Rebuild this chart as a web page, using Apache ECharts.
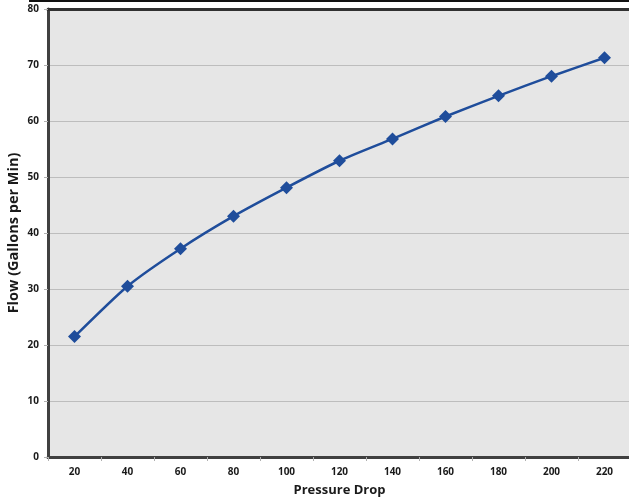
<!DOCTYPE html>
<html>
<head>
<meta charset="utf-8">
<script src="https://cdn.jsdelivr.net/npm/echarts@6/dist/echarts.min.js"></script>
<style>
html,body{margin:0;padding:0;background:#fff;}
#c{width:629px;height:504px;}
</style>
</head>
<body>
<div id="c"></div>
<script>
var categories = ['20','40','60','80','100','120','140','160','180','200','220'];
var flowValues = [21.5, 30.5, 37.2, 43.0, 48.1, 52.9, 56.8, 60.8, 64.5, 68.0, 71.3];
var yTicks = [0, 10, 20, 30, 40, 50, 60, 70, 80];

var fontFam = '"Open Sans", "Liberation Sans", sans-serif';
var chart = echarts.init(document.getElementById('c'), null, {renderer:'canvas'});
chart.setOption({
  animation: false,
  backgroundColor: '#ffffff',
  graphic: [{
    type: 'line',
    shape: {x1: 29, y1: 1, x2: 629, y2: 1},
    style: {stroke: '#111', lineWidth: 2}
  }],
  grid: {left: 48, top: 9, width: 583, height: 448, show: true, backgroundColor: '#e6e6e6', borderWidth: 0,
    outerBoundsMode: 'none', containLabel: false},
  xAxis: [{
    type: 'category',
    data: categories,
    boundaryGap: true,
    position: 'bottom',
    name: 'Pressure Drop',
    nameLocation: 'middle',
    nameGap: 27,
    nameTextStyle: {fontFamily: fontFam, fontWeight: 'bold', fontSize: 13, color: '#1a1a1a'},
    axisLine: {lineStyle: {color: '#404040', width: 3}},
    axisTick: {show: true, alignWithLabel: false, length: 4, lineStyle: {color: '#b0b0b0', width: 1}},
    axisLabel: {fontFamily: fontFam, fontWeight: 'bold', fontSize: 10, color: '#1a1a1a', margin: 10},
    splitLine: {show: false}
  }, {
    type: 'category',
    data: categories,
    position: 'top',
    axisLine: {lineStyle: {color: '#303030', width: 3}},
    axisTick: {show: false},
    axisLabel: {show: false},
    splitLine: {show: false}
  }],
  yAxis: {
    type: 'value',
    min: 0, max: 80, interval: 10,
    name: 'Flow (Gallons per Min)',
    nameLocation: 'middle',
    nameGap: 27,
    nameMoveOverlap: false,
    nameTextStyle: {fontFamily: fontFam, fontWeight: 'bold', fontSize: 14.5, color: '#1a1a1a'},
    axisLine: {show: true, lineStyle: {color: '#404040', width: 3}},
    axisTick: {show: true, length: 4, lineStyle: {color: '#b0b0b0', width: 1}},
    axisLabel: {fontFamily: fontFam, fontWeight: 'bold', fontSize: 10, color: '#1a1a1a', margin: 9,
      formatter: function(v){ return yTicks.indexOf(v) >= 0 ? String(v) : ''; }},
    splitLine: {show: true, lineStyle: {color: '#bdbdbd', width: 1}}
  },
  series: [{
    type: 'line',
    data: flowValues,
    smooth: 0.2,
    symbol: 'diamond',
    symbolSize: 13,
    lineStyle: {color: '#1f4d9b', width: 2.5},
    itemStyle: {color: '#1f4d9b'}
  }]
});
</script>
</body>
</html>
